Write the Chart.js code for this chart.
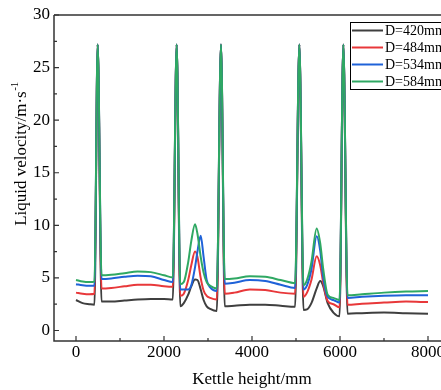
<!DOCTYPE html>
<html>
<head>
<meta charset="utf-8">
<script src="https://cdn.jsdelivr.net/npm/chart.js@4.4.1/dist/chart.umd.min.js"></script>
<style>
  body { margin: 0; overflow: hidden; background: #fff; }
</style>
</head>
<body>
<canvas id="velocity" width="470" height="390"></canvas>
<script>
// kettle height positions (mm), shared by all series
const heights = [0, 150, 300, 420, 493, 580, 800, 1100, 1400, 1700, 2000, 2200, 2288, 2370, 2450, 2550, 2620, 2705, 2760, 2834, 2900, 2970, 3050, 3200, 3295, 3380, 3600, 3950, 4300, 4650, 4980, 5076, 5170, 5250, 5350, 5470, 5550, 5620, 5720, 5850, 5990, 6076, 6170, 6500, 7000, 7500, 8000];

const d420 = [2.9, 2.6, 2.5, 2.45, 27.2, 2.75, 2.75, 2.85, 2.95, 3.0, 3.0, 2.95, 27.2, 2.3, 2.6, 3.4, 4.2, 4.85, 4.8, 3.9, 2.9, 2.3, 2.05, 1.85, 27.2, 2.3, 2.35, 2.45, 2.45, 2.35, 2.25, 27.2, 1.95, 2.0, 2.6, 4.0, 4.7, 4.2, 2.6, 1.7, 1.35, 27.2, 1.6, 1.65, 1.7, 1.65, 1.6];
const d484 = [3.6, 3.5, 3.45, 3.5, 27.2, 4.0, 4.05, 4.2, 4.35, 4.35, 4.2, 4.15, 27.2, 3.3, 3.5, 4.8, 6.2, 7.5, 7.0, 5.0, 3.8, 3.3, 3.1, 2.95, 27.2, 3.5, 3.6, 3.9, 3.85, 3.6, 3.5, 27.2, 3.2, 3.6, 4.8, 7.05, 6.2, 4.5, 2.8, 2.5, 2.2, 27.2, 2.45, 2.55, 2.65, 2.75, 2.7];
const d534 = [4.4, 4.3, 4.25, 4.25, 27.2, 4.9, 4.95, 5.1, 5.2, 5.15, 4.8, 4.6, 27.2, 3.9, 3.9, 3.9, 4.3, 6.0, 7.5, 9.0, 7.0, 4.8, 4.1, 3.75, 27.2, 4.45, 4.55, 4.8, 4.7, 4.35, 4.05, 27.2, 3.9, 4.3, 5.8, 8.95, 7.6, 5.0, 3.2, 2.9, 2.65, 27.2, 3.1, 3.2, 3.3, 3.35, 3.35];
const d584 = [4.8, 4.65, 4.6, 4.65, 27.2, 5.25, 5.3, 5.45, 5.6, 5.55, 5.25, 5.05, 27.2, 4.4, 4.6, 6.5, 8.5, 10.1, 9.2, 7.0, 5.5, 4.6, 4.25, 4.0, 27.2, 4.9, 4.95, 5.15, 5.1, 4.8, 4.5, 27.2, 4.3, 4.8, 6.5, 9.7, 8.3, 5.8, 3.4, 3.1, 2.9, 27.2, 3.35, 3.45, 3.6, 3.7, 3.75];

const seriesNames = ['D=420mm', 'D=484mm', 'D=534mm', 'D=584mm'];
const seriesValues = [d420, d484, d534, d584];
const seriesColors = ['#3f3f3f', '#e8383a', '#1f62d8', '#2fa863'];

const xTicks = [0, 2000, 4000, 6000, 8000];
const yTicks = [0, 5, 10, 15, 20, 25, 30];

const serif = 'Liberation Serif';

// frame, inward ticks, y title and boxed legend
const decorations = {
    id: 'decorations',
    afterDraw(chart) {
        const ctx = chart.ctx;
        const a = chart.chartArea;
        const xs = chart.scales.x;
        const ys = chart.scales.y;
        ctx.save();
        ctx.strokeStyle = '#333';
        ctx.lineWidth = 1.5;
        ctx.beginPath();
        ctx.moveTo(a.left, a.top);
        ctx.lineTo(a.right, a.top);
        ctx.moveTo(a.left, a.top);
        ctx.lineTo(a.left, a.bottom);
        ctx.lineTo(a.right, a.bottom);
        ctx.stroke();

        ctx.lineWidth = 1.2;
        ctx.beginPath();
        for (let v = 0; v <= 8000; v += 1000) {
            const px = xs.getPixelForValue(v);
            const len = xTicks.includes(v) ? 5 : 3;
            ctx.moveTo(px, a.bottom);
            ctx.lineTo(px, a.bottom - len);
        }
        for (let v = 0; v <= 30; v += 2.5) {
            const py = ys.getPixelForValue(v);
            const len = yTicks.includes(v) ? 5 : 3;
            ctx.moveTo(a.left, py);
            ctx.lineTo(a.left + len, py);
        }
        ctx.stroke();

        // y axis title with superscript
        ctx.fillStyle = '#000';
        ctx.translate(21.5, 154);
        ctx.rotate(-Math.PI / 2);
        const main = 'Liquid velocity/m·s';
        const sup = '-1';
        ctx.font = '17px "' + serif + '"';
        const wMain = ctx.measureText(main).width;
        ctx.font = '11px "' + serif + '"';
        const wSup = ctx.measureText(sup).width;
        const start = -(wMain + wSup) / 2;
        ctx.textBaseline = 'middle';
        ctx.textAlign = 'left';
        ctx.font = '17px "' + serif + '"';
        ctx.fillText(main, start, 0);
        ctx.font = '11px "' + serif + '"';
        ctx.fillText(sup, start + wMain + 0.5, -6);
        ctx.restore();

        // legend
        ctx.save();
        ctx.fillStyle = '#fff';
        ctx.fillRect(350.5, 22.5, 130, 67);
        ctx.strokeStyle = '#000';
        ctx.lineWidth = 1;
        ctx.strokeRect(350.5, 22.5, 130, 67);
        ctx.font = '14px "' + serif + '"';
        ctx.textBaseline = 'middle';
        chart.data.datasets.forEach((ds, i) => {
            const y = 30.5 + 17 * i;
            ctx.strokeStyle = ds.borderColor;
            ctx.lineWidth = 2;
            ctx.beginPath();
            ctx.moveTo(352, y);
            ctx.lineTo(383, y);
            ctx.stroke();
            ctx.fillStyle = '#000';
            ctx.fillText(ds.label, 385, y + 1);
        });
        ctx.restore();
    }
};

const datasets = seriesNames.map((name, i) => ({
    label: name,
    data: heights.map((h, j) => ({ x: h, y: seriesValues[i][j] })),
    borderColor: seriesColors[i],
    backgroundColor: seriesColors[i],
    borderWidth: 2,
    pointRadius: 0,
    cubicInterpolationMode: 'monotone',
    order: seriesNames.length - i
}));

const ctx = document.getElementById('velocity').getContext('2d');
new Chart(ctx, {
    type: 'line',
    data: { datasets: datasets },
    options: {
        responsive: false,
        animation: false,
        devicePixelRatio: 1,
        layout: { padding: { top: 15, right: 20, left: 0, bottom: 0 } },
        plugins: {
            legend: { display: false },
            tooltip: { enabled: false }
        },
        scales: {
            x: {
                type: 'linear',
                min: -500,
                max: 8500,
                grid: { display: false, drawTicks: false },
                border: { display: false },
                afterFit: (scale) => { scale.height = 49; },
                afterBuildTicks: (scale) => { scale.ticks = xTicks.map(v => ({ value: v })); },
                ticks: {
                    padding: 1,
                    maxRotation: 0,
                    color: '#000',
                    font: { family: serif, size: 17 },
                    callback: (v) => String(v)
                },
                title: {
                    display: true,
                    text: 'Kettle height/mm',
                    color: '#000',
                    font: { family: serif, size: 17 },
                    padding: { top: 0, bottom: 0 }
                }
            },
            y: {
                min: -1,
                max: 30,
                grid: { display: false, drawTicks: false },
                border: { display: false },
                afterFit: (scale) => { scale.width = 54; },
                afterBuildTicks: (scale) => { scale.ticks = yTicks.map(v => ({ value: v })); },
                ticks: {
                    padding: 4,
                    color: '#000',
                    font: { family: serif, size: 17 },
                    callback: (v) => String(v)
                }
            }
        }
    },
    plugins: [decorations]
});
</script>
</body>
</html>
